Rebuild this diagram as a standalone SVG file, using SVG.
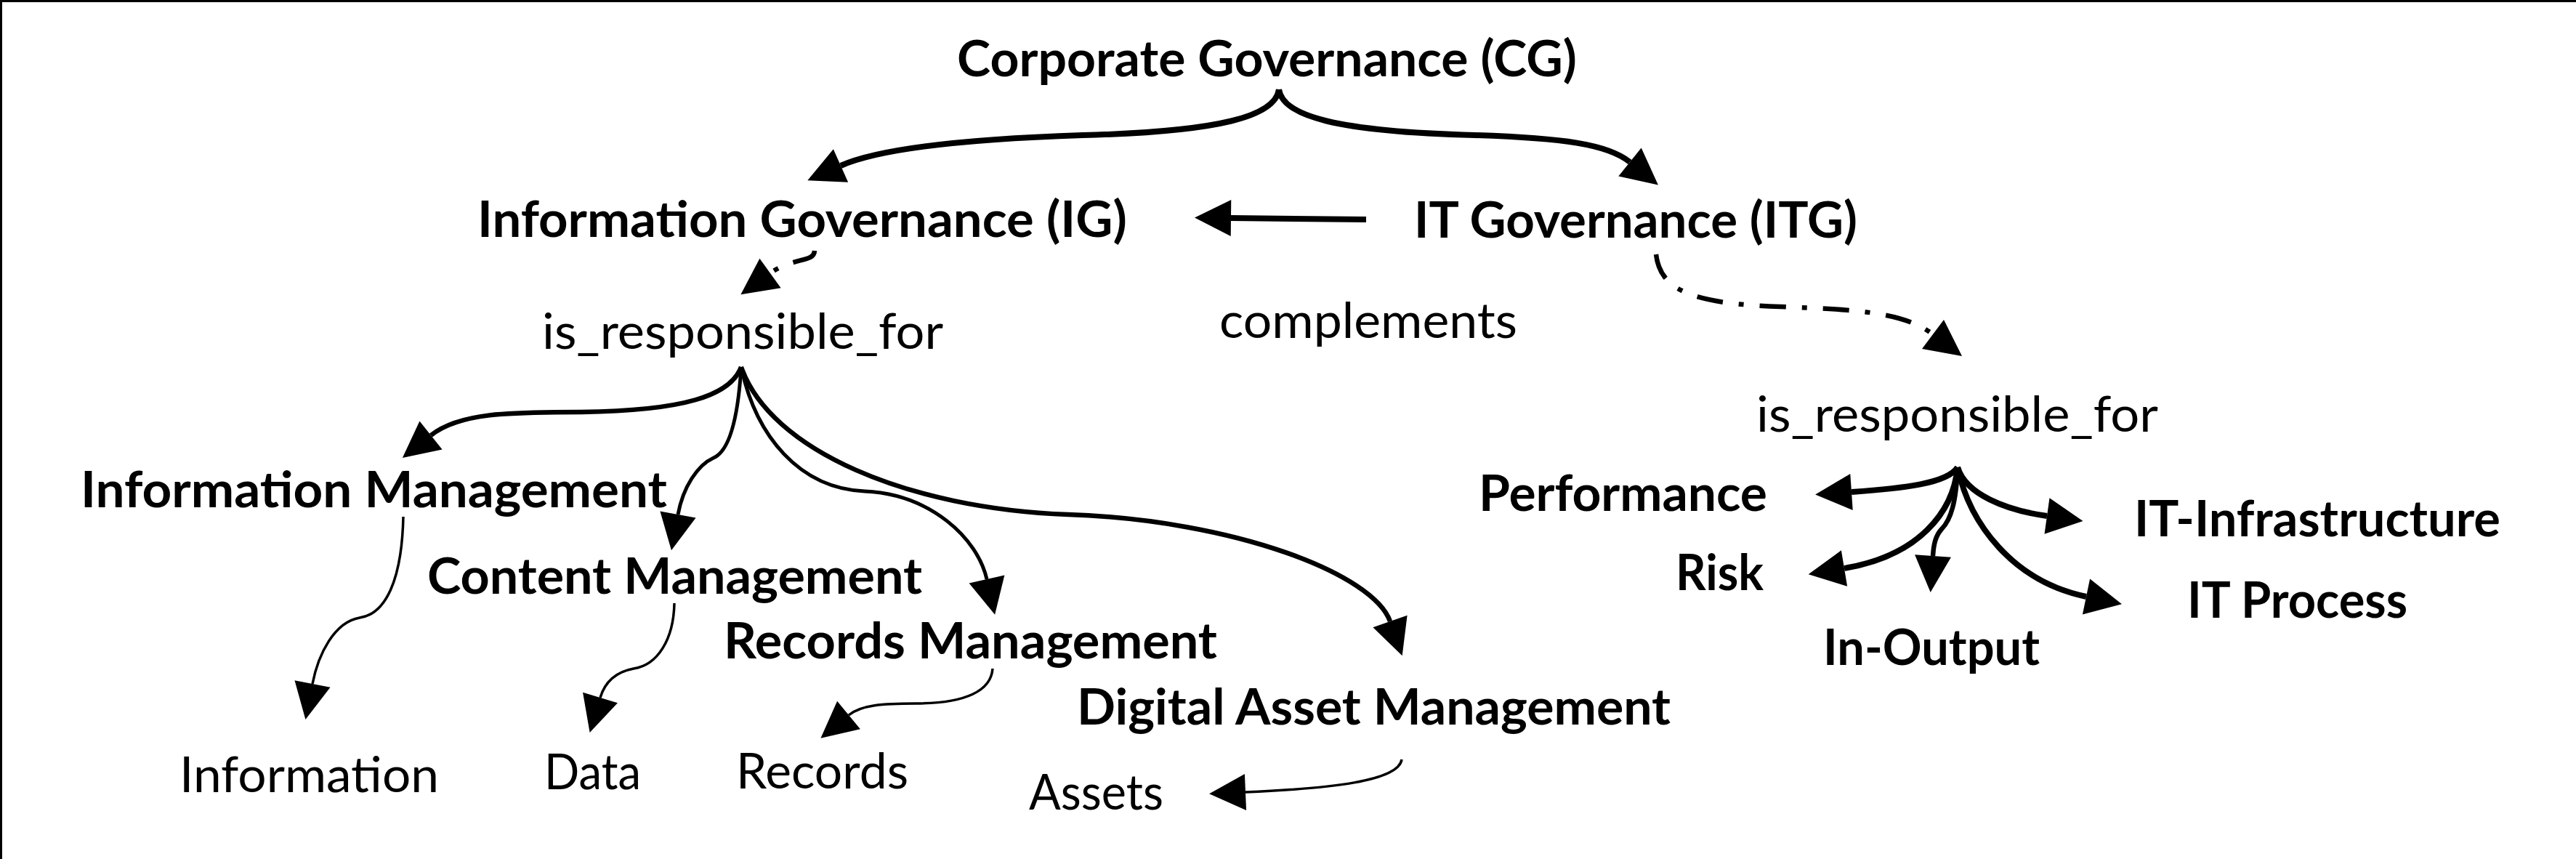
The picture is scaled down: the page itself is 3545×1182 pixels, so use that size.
<svg xmlns="http://www.w3.org/2000/svg" width="3545" height="1182" viewBox="0 0 3545 1182">
<defs>
<style>
.b{font-family:Lato,'Liberation Sans',sans-serif;font-weight:700;font-size:69px;fill:#000}
.r{font-family:Lato,'Liberation Sans',sans-serif;font-weight:400;font-size:67px;fill:#000}
.c{fill:none;stroke:#000;stroke-linecap:butt;marker-end:url(#ah)}
.w8{stroke-width:8}
.w6{stroke-width:6.5}
.w5{stroke-width:5}
.w3{stroke-width:3.5}
.dd{stroke-dasharray:36 22 7 22}
</style>
<marker id="ah" markerUnits="userSpaceOnUse" markerWidth="52" markerHeight="52" refX="0" refY="25" orient="auto" overflow="visible">
<path d="M0,0 L50,25 L0,50 z" fill="#000"/>
</marker>
</defs>
<rect x="0" y="0" width="3545" height="1182" fill="#fff"/>
<path d="M1.5,1182 L1.5,1.5 L3545,1.5" fill="none" stroke="#000" stroke-width="3"/>

<g id="connectors">
<path class="c w8" d="M1760,123 C1755,160 1680,181 1490,186 C1370,190 1220,200 1157,228"/>
<path class="c w8" d="M1760,123 C1765,160 1840,181 2030,186 C2150,190 2212,198 2243,223"/>
<path class="c w8" d="M1880,302 L1694,300"/>
<path class="c w6 dd" d="M1121,345 C1120,362 1092,353 1060,376"/>
<path class="c w6 dd" d="M2279,350 C2285,400 2330,418 2450,422 C2560,426 2620,430 2660,460"/>
<path class="c w6" d="M1020,505 C1005,545 940,565 800,567 C700,567 632,568 593,599"/>
<path class="c w5" d="M1020,505 C1016,570 1005,620 982,630 C960,640 940,670 933,708"/>
<path class="c w5" d="M1020,505 C1040,600 1100,672 1190,676 C1280,680 1345,740 1358,797"/>
<path class="c w6" d="M1020,505 C1060,620 1250,700 1470,708 C1700,716 1890,790 1913,855"/>
<path class="c w3" d="M555,711 C553,800 530,845 495,850 C460,856 438,900 430,941"/>
<path class="c w3" d="M928,830 C927,880 905,915 872,920 C845,925 832,940 826,960"/>
<path class="c w3" d="M1366,920 C1364,950 1330,968 1260,968 C1215,968 1185,970 1168,984"/>
<path class="c w3" d="M1929,1045 C1925,1075 1830,1085 1714,1090"/>
<path class="c w8" d="M2694,643 C2680,665 2620,672 2548,677"/>
<path class="c w8" d="M2694,643 C2688,705 2640,765 2538,782"/>
<path class="c w6" d="M2694,643 C2692,690 2685,715 2672,728 C2663,738 2661,750 2660,765"/>
<path class="c w8" d="M2694,643 C2705,680 2760,702 2817,710"/>
<path class="c w8" d="M2694,643 C2710,720 2770,800 2871,821"/>
</g>

<g id="cg"><text class="b" x="1317" y="105" textLength="853" lengthAdjust="spacingAndGlyphs">Corporate Governance (CG)</text></g>
<g id="ig"><text class="b" x="657" y="326" textLength="894" lengthAdjust="spacingAndGlyphs">Information Governance (IG)</text></g>
<g id="itg"><text class="b" x="1946" y="327" textLength="610" lengthAdjust="spacingAndGlyphs">IT Governance (ITG)</text></g>
<g id="complements"><text class="r" x="1678" y="465" textLength="410" lengthAdjust="spacingAndGlyphs">complements</text></g>
<g id="ig-resp"><text class="r" x="746" y="480" textLength="552" lengthAdjust="spacingAndGlyphs">is_responsible_for</text></g>
<g id="itg-resp"><text class="r" x="2417" y="594" textLength="553" lengthAdjust="spacingAndGlyphs">is_responsible_for</text></g>
<g id="im"><text class="b" x="111" y="698" textLength="807" lengthAdjust="spacingAndGlyphs">Information Management</text></g>
<g id="cm"><text class="b" x="588" y="817" textLength="681" lengthAdjust="spacingAndGlyphs">Content Management</text></g>
<g id="rm"><text class="b" x="996" y="906" textLength="679" lengthAdjust="spacingAndGlyphs">Records Management</text></g>
<g id="dam"><text class="b" x="1482" y="997" textLength="817" lengthAdjust="spacingAndGlyphs">Digital Asset Management</text></g>
<g id="information"><text class="r" x="247" y="1090" textLength="357" lengthAdjust="spacingAndGlyphs">Information</text></g>
<g id="data"><text class="r" x="749" y="1086" textLength="133" lengthAdjust="spacingAndGlyphs">Data</text></g>
<g id="records"><text class="r" x="1013" y="1085" textLength="237" lengthAdjust="spacingAndGlyphs">Records</text></g>
<g id="assets"><text class="r" x="1416" y="1114" textLength="185" lengthAdjust="spacingAndGlyphs">Assets</text></g>
<g id="performance"><text class="b" x="2035" y="703" textLength="397" lengthAdjust="spacingAndGlyphs">Performance</text></g>
<g id="risk"><text class="b" x="2306" y="812" textLength="121" lengthAdjust="spacingAndGlyphs">Risk</text></g>
<g id="in-output"><text class="b" x="2509" y="915" textLength="298" lengthAdjust="spacingAndGlyphs">In-Output</text></g>
<g id="it-infrastructure"><text class="b" x="2937" y="738" textLength="504" lengthAdjust="spacingAndGlyphs">IT-Infrastructure</text></g>
<g id="it-process"><text class="b" x="3010" y="850" textLength="303" lengthAdjust="spacingAndGlyphs">IT Process</text></g>
</svg>
